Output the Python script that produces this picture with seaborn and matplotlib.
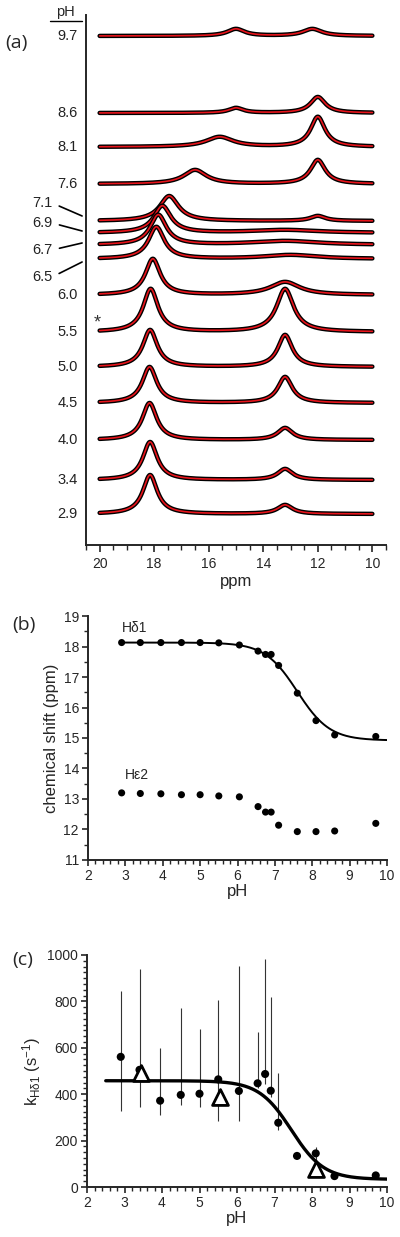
import numpy as np
import pandas as pd
import seaborn as sns
import matplotlib.pyplot as plt
from matplotlib.ticker import MultipleLocator

# ---- data: panel (a) spectra, one row per pH ----
spec_ph = ['9.7', '8.6', '8.1', '7.6', '7.1', '6.9', '6.7', '6.5',
           '6.0', '5.5', '5.0', '4.5', '4.0', '3.4', '2.9']
offsets = [509, 432, 398, 361, 324, 312, 300, 286, 250, 213, 178, 142, 105, 65, 31]
# H-delta1 peak (ppm, height, half width)
p1_ppm = [15.0, 15.0, 15.6, 16.5, 17.45, 17.7, 17.85, 17.92, 18.05, 18.13, 18.15, 18.17, 18.17, 18.15, 18.15]
p1_amp = [7, 5, 10, 14, 25, 27, 30, 32, 36, 43, 37, 36, 37, 38, 39]
p1_hw = [0.38, 0.32, 0.6, 0.5, 0.42, 0.38, 0.36, 0.35, 0.33, 0.33, 0.32, 0.32, 0.32, 0.32, 0.32]
# H-epsilon2 peak
p2_ppm = [12.2, 12.0, 12.0, 12.0, 12.0, 13.2, 13.2, 13.0, 13.2, 13.2, 13.2, 13.2, 13.2, 13.2, 13.2]
p2_amp = [7, 16, 30, 24, 5, 3, 4, 4, 13, 43, 32, 26, 12, 11, 9]
p2_hw = [0.42, 0.33, 0.32, 0.33, 0.33, 1.5, 1.5, 1.2, 0.65, 0.38, 0.32, 0.32, 0.33, 0.33, 0.33]

# ---- data: panel (b) chemical shifts ----
ph = [2.9, 3.4, 3.95, 4.5, 5.0, 5.5, 6.05, 6.55, 6.75, 6.9, 7.1, 7.6, 8.1, 8.6, 9.7]
hd1 = [18.13, 18.13, 18.13, 18.13, 18.13, 18.12, 18.05, 17.85, 17.74, 17.74, 17.38, 16.47, 15.57, 15.1, 15.05]
he2 = [13.2, 13.18, 13.17, 13.14, 13.14, 13.1, 13.07, 12.75, 12.57, 12.57, 12.14, 11.93, 11.93, 11.95, 12.2]
fit_b = dict(high=18.13, low=14.92, pka=7.6)

# ---- data: panel (c) exchange rates ----
k_ph = [2.9, 3.4, 3.95, 4.5, 5.0, 5.5, 6.05, 6.55, 6.75, 6.9, 7.1, 7.6, 8.1, 8.6, 9.7]
k_val = [561, 505, 372, 397, 402, 464, 414, 447, 487, 415, 277, 134, 145, 47, 50]
k_hi = [846, 938, 600, 770, 680, 806, 954, 670, 981, 821, 490, 134, 174, 47, 62]
k_lo = [328, 346, 310, 353, 346, 286, 286, 425, 443, 389, 246, 134, 116, 47, 40]
tri_ph = [3.45, 5.55, 8.1]
tri_val = [490, 389, 76]
fit_c = dict(high=458, low=33, pka=7.45)

sns.set_theme(style='ticks')
plt.rcParams['font.family'] = ['Liberation Sans', 'DejaVu Sans']
plt.rcParams['mathtext.fontset'] = 'custom'
plt.rcParams['mathtext.rm'] = 'Liberation Sans'
plt.rcParams['mathtext.it'] = 'Liberation Sans'
plt.rcParams['font.size'] = 10
plt.rcParams['axes.linewidth'] = 1.4
plt.rcParams['xtick.major.width'] = 1.2
plt.rcParams['ytick.major.width'] = 1.2
plt.rcParams['xtick.minor.width'] = 1.0
plt.rcParams['ytick.minor.width'] = 1.0
plt.rcParams['xtick.labelsize'] = 10
plt.rcParams['ytick.labelsize'] = 10

fig = plt.figure(figsize=(4.0, 12.37), dpi=100)
ax_a = fig.add_axes([0.215, 0.5594, 0.75, 0.4285])
ax_b = fig.add_axes([0.22, 0.3048, 0.7475, 0.1972])
ax_c = fig.add_axes([0.2175, 0.0404, 0.75, 0.1876])


def lorentz(x, x0, a, g):
    return a * g ** 2 / ((x - x0) ** 2 + g ** 2)


def hh(x, p):
    return p['low'] + (p['high'] - p['low']) / (1 + 10 ** (x - p['pka']))


# ---- (a) stacked spectra ----
ppm = np.linspace(20, 10, 600)
for i in range(len(spec_ph)):
    y = offsets[i] + lorentz(ppm, p1_ppm[i], p1_amp[i], p1_hw[i]) + lorentz(ppm, p2_ppm[i], p2_amp[i], p2_hw[i])
    sns.lineplot(x=ppm, y=y, ax=ax_a, color='black', lw=3.2, sort=False)
    sns.lineplot(x=ppm, y=y, ax=ax_a, color='#e8141b', lw=1.2, sort=False)

ax_a.set_xlim(20.5, 9.5)
ax_a.set_ylim(0, 530)
ax_a.set_yticks([])
ax_a.xaxis.set_major_locator(MultipleLocator(2))
ax_a.xaxis.set_minor_locator(MultipleLocator(0.5))
ax_a.tick_params(axis='x', which='major', length=5, direction='out')
ax_a.tick_params(axis='x', which='minor', length=3.5, direction='out')
ax_a.set_xlabel('ppm', labelpad=2)
sns.despine(ax=ax_a)

lead = {'7.1': (5, 13), '6.9': (2, 8), '6.7': (2, -7), '6.5': (-3, -15)}
for lab, off in zip(spec_ph, offsets):
    if lab in lead:
        dy, ty = lead[lab]
        ax_a.annotate(lab, xy=(-0.013, off + dy), xycoords=('axes fraction', 'data'),
                      xytext=(-30, ty), textcoords='offset pixels', ha='right', va='center',
                      color='#222222', fontsize=10.5,
                      arrowprops=dict(arrowstyle='-', color='black', lw=1.2,
                                      relpos=(1, 0.5), shrinkA=3, shrinkB=0))
    else:
        ax_a.annotate(lab, xy=(0, off), xycoords=('axes fraction', 'data'),
                      xytext=(-8, 0), textcoords='offset pixels', ha='right', va='center',
                      color='#222222', fontsize=10.5)
ax_a.text(-0.07, 1.006, 'pH', transform=ax_a.transAxes, ha='center', va='center', fontsize=10.5)
ax_a.plot([-0.12, -0.015], [0.9887, 0.9887], transform=ax_a.transAxes, color='black', lw=1.0, clip_on=False)
ax_a.text(20.1, 222, '*', ha='center', va='center', fontsize=13, color='#333333')

# ---- (b) chemical shift vs pH ----
xb = np.linspace(2.9, 10, 300)
sns.lineplot(x=xb, y=hh(xb, fit_b), ax=ax_b, color='black', lw=1.4, sort=False)
sns.scatterplot(x=ph, y=hd1, ax=ax_b, color='black', s=26, edgecolor='none', zorder=3)
sns.scatterplot(x=ph, y=he2, ax=ax_b, color='black', s=26, edgecolor='none', zorder=3)
ax_b.text(2.91, 18.6, 'H\u03b41', ha='left', va='center', fontsize=10)
ax_b.text(2.99, 13.77, 'H\u03b52', ha='left', va='center', fontsize=10)
ax_b.set_xlim(2, 10)
ax_b.set_ylim(11, 19)
ax_b.xaxis.set_major_locator(MultipleLocator(1))
ax_b.xaxis.set_minor_locator(MultipleLocator(0.2))
ax_b.yaxis.set_major_locator(MultipleLocator(1))
ax_b.yaxis.set_minor_locator(MultipleLocator(0.5))
ax_b.tick_params(which='major', length=4.5, pad=2)
ax_b.tick_params(which='minor', length=3)
ax_b.set_xlabel('pH', labelpad=1)
ax_b.set_ylabel('chemical shift (ppm)', labelpad=3)
sns.despine(ax=ax_b)

# ---- (c) exchange rate vs pH ----
xc = np.linspace(2.5, 10, 300)
ax_c.vlines(k_ph, k_lo, k_hi, color='#333333', lw=0.8, zorder=1)
sns.lineplot(x=xc, y=hh(xc, fit_c), ax=ax_c, color='black', lw=2.4, sort=False, zorder=2)
sns.scatterplot(x=k_ph, y=k_val, ax=ax_c, color='black', s=34, edgecolor='none', zorder=3)
sns.scatterplot(x=tri_ph, y=tri_val, ax=ax_c, marker='^', s=130, facecolor='white',
                edgecolor='black', linewidth=2.0, zorder=4)
ax_c.set_xlim(2, 10)
ax_c.set_ylim(0, 1000)
ax_c.xaxis.set_major_locator(MultipleLocator(1))
ax_c.xaxis.set_minor_locator(MultipleLocator(0.2))
ax_c.yaxis.set_major_locator(MultipleLocator(200))
ax_c.yaxis.set_minor_locator(MultipleLocator(25))
ax_c.tick_params(which='major', length=4.5, pad=2)
ax_c.tick_params(which='minor', length=3)
ax_c.set_xlabel('pH', labelpad=1)
ax_c.set_ylabel(r'k$_{\mathrm{H\delta1}}$ (s$^{-1}$)', labelpad=3)
sns.despine(ax=ax_c)

fig.text(0.012, 1 - 43 / 1237, '(a)', fontsize=14, family='Open Sans', va='center', ha='left')
fig.text(0.03, 1 - 625 / 1237, '(b)', fontsize=14, family='Open Sans', va='center', ha='left')
fig.text(0.03, 1 - 960 / 1237, '(c)', fontsize=14, family='Open Sans', va='center', ha='left')

fig.savefig('out.png', dpi=100)
